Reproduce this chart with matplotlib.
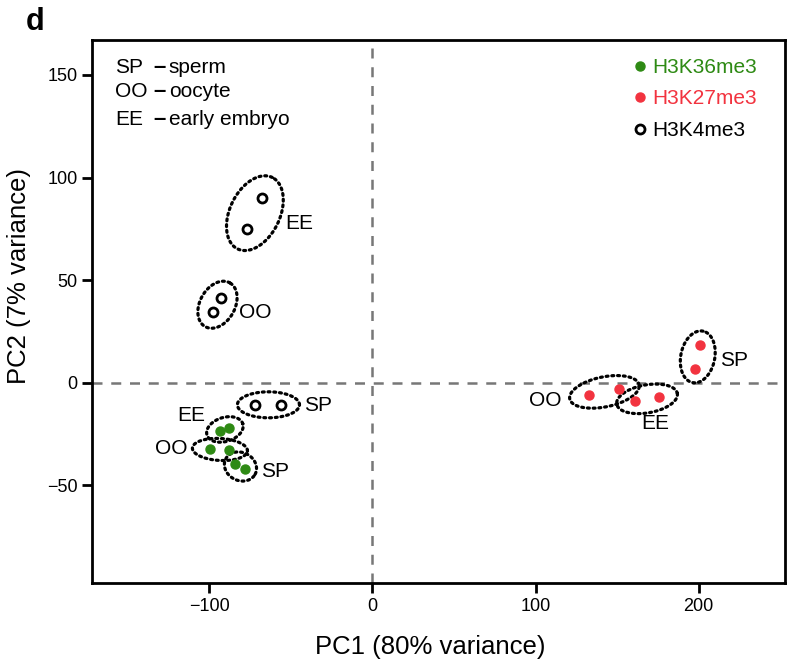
import numpy as np
import matplotlib
matplotlib.use('Agg')
import matplotlib.pyplot as plt

'''
PCA of histone mark profiles (sperm, oocyte, early embryo)
'''

plt.rcParams['font.family'] = ['Liberation Sans', 'DejaVu Sans']

# sample stage per point (same order for every mark)
stages = ['SP', 'SP', 'OO', 'OO', 'EE', 'EE']

# H3K4me3
k4_pc1 = [-71.8, -55.8, -97.5, -92.6, -76.7, -67.5]
k4_pc2 = [-10.7, -10.7, 34.6, 41.5, 75.1, 90.2]
# H3K36me3
k36_pc1 = [-84.0, -77.9, -99.4, -87.7, -93.3, -87.7]
k36_pc2 = [-39.5, -42.0, -32.2, -32.7, -23.4, -22.0]
# H3K27me3
k27_pc1 = [198.0, 201.0, 133.0, 151.5, 161.3, 175.5]
k27_pc2 = [6.8, 18.5, -5.9, -2.9, -8.8, -6.8]

stage_names = ['SP', 'OO', 'EE']
stage_desc = ['sperm', 'oocyte', 'early embryo']

green = '#2e8a14'
red = '#f2333f'

# ellipse extra length / minor size and label offsets, in pixels
ell_style = {
    ('k4', 'EE'): (45, 50, (44, -10)),
    ('k4', 'OO'): (34, 35, (38, -8)),
    ('k4', 'SP'): (36, 26, (50, -1)),
    ('k36', 'EE'): (28, 24, (-34, 14)),
    ('k36', 'OO'): (36, 22, (-49, 1)),
    ('k36', 'SP'): (22, 28, (35, -5)),
    ('k27', 'OO'): (40, 30, (-59, -9)),
    ('k27', 'EE'): (38, 28, (8, -25)),
    ('k27', 'SP'): (28, 34, (36, -4)),
}

fig = plt.figure(figsize=(7.87, 6.62), dpi=100)
ax = fig.add_axes([92/787, 79/662, 693/787, 543/662])
ax.set_xlim(-172, 253)
ax.set_ylim(-97.5, 167)

ax.axvline(0, color='#777777', lw=1.8, ls=(0, (4, 3.5)), zorder=1)
ax.axhline(0, color='#777777', lw=1.8, ls=(0, (4, 3.5)), zorder=1)

ax.plot(k36_pc1, k36_pc2, 'o', color=green, ms=6.5, mec=green, ls='none',
        label='H3K36me3', zorder=3)
ax.plot(k27_pc1, k27_pc2, 'o', color=red, ms=6.5, mec=red, ls='none',
        label='H3K27me3', zorder=3)
ax.plot(k4_pc1, k4_pc2, 'o', mfc='none', mec='black', mew=2, ms=6.5,
        ls='none', label='H3K4me3', zorder=3)

# dotted ellipses around replicate pairs, drawn in pixel space
marks = {'k4': (k4_pc1, k4_pc2), 'k36': (k36_pc1, k36_pc2),
         'k27': (k27_pc1, k27_pc2)}
trans = ax.transData
inv = trans.inverted()
t = np.linspace(0, 2*np.pi, 200)
for mark, (xs, ys) in marks.items():
    for st in stage_names:
        idx = [i for i in range(len(stages)) if stages[i] == st]
        pts = trans.transform(np.column_stack([[xs[i] for i in idx],
                                               [ys[i] for i in idx]]))
        c = pts.mean(axis=0)
        dx, dy = pts[1] - pts[0]
        ang = np.arctan2(dy, dx)
        extra, minor, off = ell_style[(mark, st)]
        a = (np.hypot(dx, dy) + extra) / 2
        b = minor / 2
        ex = c[0] + a*np.cos(t)*np.cos(ang) - b*np.sin(t)*np.sin(ang)
        ey = c[1] + a*np.cos(t)*np.sin(ang) + b*np.sin(t)*np.cos(ang)
        dat = inv.transform(np.column_stack([ex, ey]))
        ax.plot(dat[:, 0], dat[:, 1], color='black', lw=2.3,
                ls=(0, (0.6, 1.2)), dash_capstyle='round', zorder=2)
        cx, cy = inv.transform(c)
        ax.annotate(st, (cx, cy), xytext=off, textcoords='offset pixels',
                    ha='center', va='center', fontsize=15)

# stage key, top left
key_y = [0.950, 0.906, 0.854]
for j in range(len(stage_names)):
    ax.text(0.033, key_y[j], stage_names[j], transform=ax.transAxes,
            fontsize=15, va='center', ha='left')
    ax.text(0.098, key_y[j], '–', transform=ax.transAxes, fontsize=16,
            va='center', ha='center', fontweight='bold')
    ax.text(0.111, key_y[j], stage_desc[j], transform=ax.transAxes,
            fontsize=15, va='center', ha='left')

ax.legend(loc='upper right', bbox_to_anchor=(1.0 - 3/693, 1.0 + 7/543),
          frameon=False, fontsize=15, handlelength=0.5, handletextpad=0.35,
          labelspacing=0.6, borderaxespad=0.9, borderpad=0.3,
          labelcolor=[green, red, 'black'])

ax.set_xticks([-100, 0, 100, 200])
ax.set_yticks([-50, 0, 50, 100, 150])
ax.set_xticklabels(['−100', '0', '100', '200'])
ax.set_yticklabels(['−50', '0', '50', '100', '150'])
ax.tick_params(labelsize=13, width=2, length=7, direction='out')
for s in ax.spines.values():
    s.set_linewidth(2)

ax.set_xlabel('PC1 (80% variance)', fontsize=18.5, va='center')
ax.xaxis.set_label_coords(0.488, -0.117)
ax.set_ylabel('PC2 (7% variance)', fontsize=18.5)
ax.yaxis.set_label_coords(-0.088, 0.566)

fig.text(35/787, 1 - 22/662, 'd', fontsize=22, fontweight='bold',
         ha='center', va='center')

fig.savefig('out.png', dpi=100)
